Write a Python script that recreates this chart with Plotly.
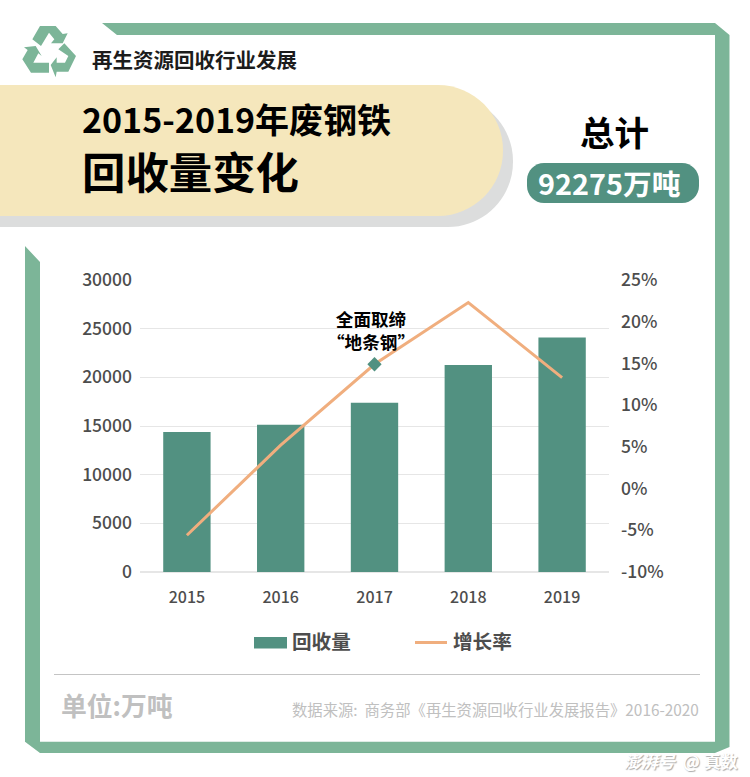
import plotly.graph_objects as go

W, H = 750, 777
years = ["2015", "2016", "2017", "2018", "2019"]
recovered = [14380, 15130, 17391, 21277, 24097]
growth = [-5.6, 5.2, 14.9, 22.3, 13.3]
left_ticks = [0, 5000, 10000, 15000, 20000, 25000, 30000]
right_ticks = [-10, -5, 0, 5, 10, 15, 20, 25]
right_labels = ["-10%", "-5%", "0%", "5%", "10%", "15%", "20%", "25%"]
note_year = "2017"
note_value = 14.9

GREEN = "#7cb598"
TEAL = "#529181"
CREAM = "#f5e7bc"
ORANGE = "#f0ae7e"
CJK = "Noto Sans CJK SC"


def X(p):
    return p / W


def Y(p):
    return 1 - p / H


def path(pts, color):
    d = "M " + " L ".join(f"{X(x):.5f},{Y(y):.5f}" for x, y in pts) + " Z"
    return dict(type="path", xref="paper", yref="paper", path=d, fillcolor=color, line=dict(width=0), layer="below")


def zoomed(pts):
    return [(x / 3 + 15, y / 3 + 20) for x, y in pts]


def pill(x0, y0, x1, y1, r_left, r_right, color):
    k = 0.55
    d = (
        f"M {X(x0 + r_left)},{Y(y0)} L {X(x1 - r_right)},{Y(y0)} "
        f"C {X(x1 - r_right + k * r_right)},{Y(y0)} {X(x1)},{Y(y0 + r_right - k * r_right)} {X(x1)},{Y(y0 + r_right)} "
        f"L {X(x1)},{Y(y1 - r_right)} "
        f"C {X(x1)},{Y(y1 - r_right + k * r_right)} {X(x1 - r_right + k * r_right)},{Y(y1)} {X(x1 - r_right)},{Y(y1)} "
        f"L {X(x0 + r_left)},{Y(y1)} "
    )
    if r_left:
        d += (
            f"C {X(x0 + r_left - k * r_left)},{Y(y1)} {X(x0)},{Y(y1 - r_left + k * r_left)} {X(x0)},{Y(y1 - r_left)} "
            f"L {X(x0)},{Y(y0 + r_left)} "
            f"C {X(x0)},{Y(y0 + r_left - k * r_left)} {X(x0 + r_left - k * r_left)},{Y(y0)} {X(x0 + r_left)},{Y(y0)} "
        )
    return dict(type="path", xref="paper", yref="paper", path=d + "Z", fillcolor=color, line=dict(width=0), layer="below")


shapes = [
    path([(102, 23), (715, 23), (729.5, 35), (729.5, 747), (715, 753), (715, 35), (117, 35)], GREEN),
    path([(25, 246), (40, 262), (40, 741.7), (715, 741.7), (715, 753), (40, 753), (25, 741.7)], GREEN),
    pill(0, 96, 513, 227, 0, 65, "#dcdddd"),
    pill(0, 85, 503, 216, 0, 65, CREAM),
    pill(527, 163, 699, 203, 17, 17, TEAL),
    dict(type="line", xref="paper", yref="paper", x0=X(54), x1=X(700), y0=Y(674.5), y1=Y(674.5),
         line=dict(color="#c4c4c4", width=1.2), layer="below"),
    dict(type="rect", xref="paper", yref="paper", x0=X(254), x1=X(287), y0=Y(637), y1=Y(648.5),
         fillcolor=TEAL, line=dict(width=0)),
    dict(type="line", xref="paper", yref="paper", x0=X(415), x1=X(447), y0=Y(642.5), y1=Y(642.5),
         line=dict(color=ORANGE, width=3)),
    path(zoomed([(52, 58), (75, 18), (122, 18), (143, 42), (158, 40), (143, 70), (108, 70), (118, 58), (102, 38), (78, 78)]), GREEN),
    path(zoomed([(148, 70), (183, 108), (160, 155), (125, 155), (122, 172), (107, 135), (125, 112), (125, 128), (150, 128), (160, 108), (130, 88)]), GREEN),
    path(zoomed([(102, 128), (55, 128), (70, 100), (80, 108), (62, 78), (27, 82), (38, 90), (22, 118), (48, 158), (102, 158)]), GREEN),
]

fig = go.Figure()
fig.add_bar(x=years, y=recovered, name="回收量", marker=dict(color=TEAL, line=dict(width=0)),
            width=0.505, yaxis="y", showlegend=False)
fig.add_scatter(x=years, y=growth, name="增长率", mode="lines", line=dict(color=ORANGE, width=3),
                yaxis="y2", showlegend=False)
fig.add_scatter(x=[note_year], y=[note_value], mode="markers", yaxis="y2", showlegend=False,
                marker=dict(symbol="diamond", size=11, color=TEAL))


def text(x, y, s, size, color="#000000", anchor="left", weight=700, shadow=None):
    font = dict(size=size, color=color, family=CJK, weight=weight)
    if shadow:
        font["shadow"] = shadow
    return dict(xref="paper", yref="paper", x=X(x), y=Y(y), text=s, showarrow=False, xanchor=anchor,
                yanchor="middle", font=font, align=anchor)


annotations = [
    text(90, 59, "再生资源回收行业发展", 20.5, "#1c1c1c"),
    text(80, 147.5, '<span style="font-size:34px">2015-2019年废钢铁</span><br>回收量变化', 43.4),
    text(614, 131, "总计", 34.5, anchor="center"),
    text(609, 183, "92275万吨", 28.8, "#ffffff", "center"),
    text(371, 329.5, "全面取缔<br>“地条钢”", 17.6, anchor="center"),
    text(290, 640, "回收量", 19.6, "#4d4d4d"),
    text(451, 640, "增长率", 19.6, "#4d4d4d"),
    text(59, 704, "单位:万吨", 25.8, "#c0c0c0"),
    text(290, 709, "数据来源:  商务部《再生资源回收行业发展报告》2016-2020", 15.35, "#c0c0c0", weight=400),
    text(740, 760, "<i>澎湃号</i>  @ 真数", 17, "#ffffff", "right", shadow="1px 1px 1px #aaaaaa"),
]

TICK = dict(size=17.5, color="#4d4d4d", family=CJK, weight=500)

fig.update_layout(
    width=W, height=H, margin=dict(l=0, r=0, t=0, b=0, autoexpand=False), autosize=False,
    paper_bgcolor="#ffffff", plot_bgcolor="#ffffff",
    shapes=shapes, annotations=annotations,
    xaxis=dict(domain=[X(140), X(609)], type="category", showgrid=False, showline=False, ticks="",
               tickfont=dict(size=16, color="#4d4d4d", family=CJK, weight=500),
               ticklabelstandoff=14, anchor="y", automargin=False),
    yaxis=dict(domain=[Y(572), Y(280)], range=[0, 30000], tickvals=left_ticks, tickformat="d", showgrid=True,
               gridcolor="#e6e6e6", gridwidth=1, zeroline=True, zerolinecolor="#e6e6e6", ticks="",
               tickfont=TICK, anchor="x", ticklabelstandoff=7, automargin=False),
    yaxis2=dict(domain=[Y(572), Y(280)], range=[-10, 25], tickvals=right_ticks, ticktext=right_labels,
                overlaying="y", side="right", showgrid=False, zeroline=False, ticks="",
                tickfont=TICK, anchor="x", ticklabelstandoff=11, automargin=False),
)
fig.write_html("out.html", config={"displayModeBar": False}, post_script="document.body.style.margin='0';")
